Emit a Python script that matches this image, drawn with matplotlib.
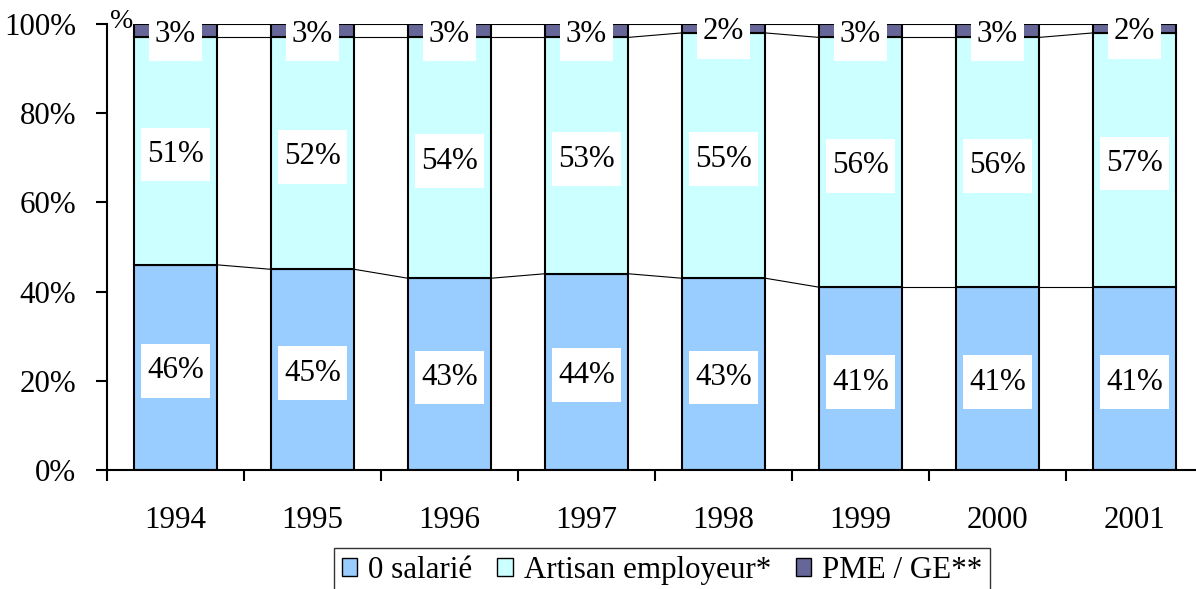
import matplotlib
matplotlib.use("Agg")
import matplotlib.pyplot as plt
from matplotlib.path import Path
import numpy as np

years = ["1994", "1995", "1996", "1997", "1998", "1999", "2000", "2001"]
zero_salarie = [46, 45, 43, 44, 43, 41, 41, 41]
artisan = [51, 52, 54, 53, 55, 56, 56, 57]
pme = [3, 3, 3, 3, 2, 3, 3, 2]
series_names = ["0 salarié", "Artisan employeur*", "PME / GE**"]
colors = ["#99CCFF", "#CCFFFF", "#666699"]
yticks = [0, 20, 40, 60, 80, 100]

plt.rcParams['font.family'] = ['Liberation Serif', 'DejaVu Serif']
FS = 22.3

fig = plt.figure(figsize=(11.96, 5.89), dpi=100)
W, H = 1196, 589
ax = fig.add_axes([107 / W, (H - 470) / H, 1096 / W, 446 / H])

x = np.arange(len(years))
bw = 0.61
data = [zero_salarie, artisan, pme]
bottoms = np.zeros(len(years))
bars = []
for vals, col, name in zip(data, colors, series_names):
    ax.bar(x, vals, bw, bottom=bottoms, color=col, edgecolor='black',
           linewidth=1.5, label=name, zorder=2)
    bars.append((vals, bottoms.copy()))
    bottoms = bottoms + np.array(vals)

# series lines between bars
cum = np.zeros(len(years))
for vals in data:
    cum = cum + np.array(vals)
    for i in range(len(years) - 1):
        ax.plot([x[i] + bw / 2, x[i + 1] - bw / 2], [cum[i], cum[i + 1]],
                color='black', lw=0.8, zorder=1.5, solid_capstyle='butt')


def label_box(x0, y0, width, height, mutation_size):
    px = 0.2 * mutation_size
    py = 0.4 * mutation_size
    xa, ya = x0 - px, y0 - py
    xb, yb = x0 + width + px, y0 + height + py
    return Path([(xa, ya), (xb, ya), (xb, yb), (xa, yb), (xa, ya)],
                [Path.MOVETO, Path.LINETO, Path.LINETO, Path.LINETO, Path.CLOSEPOLY])


for vals, bots in bars:
    for i, (v, b0) in enumerate(zip(vals, bots)):
        ax.text(x[i], b0 + v / 2, f"{v}%", ha='center', va='center_baseline',
                fontsize=FS, zorder=5, clip_on=False,
                bbox=dict(boxstyle=label_box, facecolor='white', edgecolor='none'))

ax.set_xlim(-0.5, len(years) - 0.5)
ax.set_ylim(0, 100)
ax.set_yticks(yticks)
ax.set_yticklabels([f"{t}%" for t in yticks], fontsize=FS)
ax.set_xticks(np.arange(len(years) + 1) - 0.5)
ax.set_xticklabels([])
ax.set_xticks(x, minor=True)
ax.set_xticklabels(years, minor=True, fontsize=FS)
ax.tick_params(axis='x', which='major', direction='out', length=8, width=1.5)
ax.tick_params(axis='x', which='minor', length=0, pad=26)
ax.tick_params(axis='y', direction='out', length=8, width=1.5, pad=14)
for s in ['top', 'right']:
    ax.spines[s].set_visible(False)
for s in ['left', 'bottom']:
    ax.spines[s].set_linewidth(1.5)
ax.set_facecolor('none')

fig.text(122 / W, 1 - 21 / H, "%", ha='center', va='center', fontsize=20)

leg = fig.legend(loc='upper center', bbox_to_anchor=(662 / W, (H - 548) / H), ncol=3,
                 fontsize=FS, frameon=True, fancybox=False, edgecolor='black',
                 handlelength=0.5, handleheight=0.5, handletextpad=0.35,
                 columnspacing=0.8, borderpad=0.25, borderaxespad=0)
leg.get_frame().set_linewidth(1.0)
for h in leg.legend_handles:
    h.set_linewidth(1.0)

fig.savefig("out.png", dpi=100)
